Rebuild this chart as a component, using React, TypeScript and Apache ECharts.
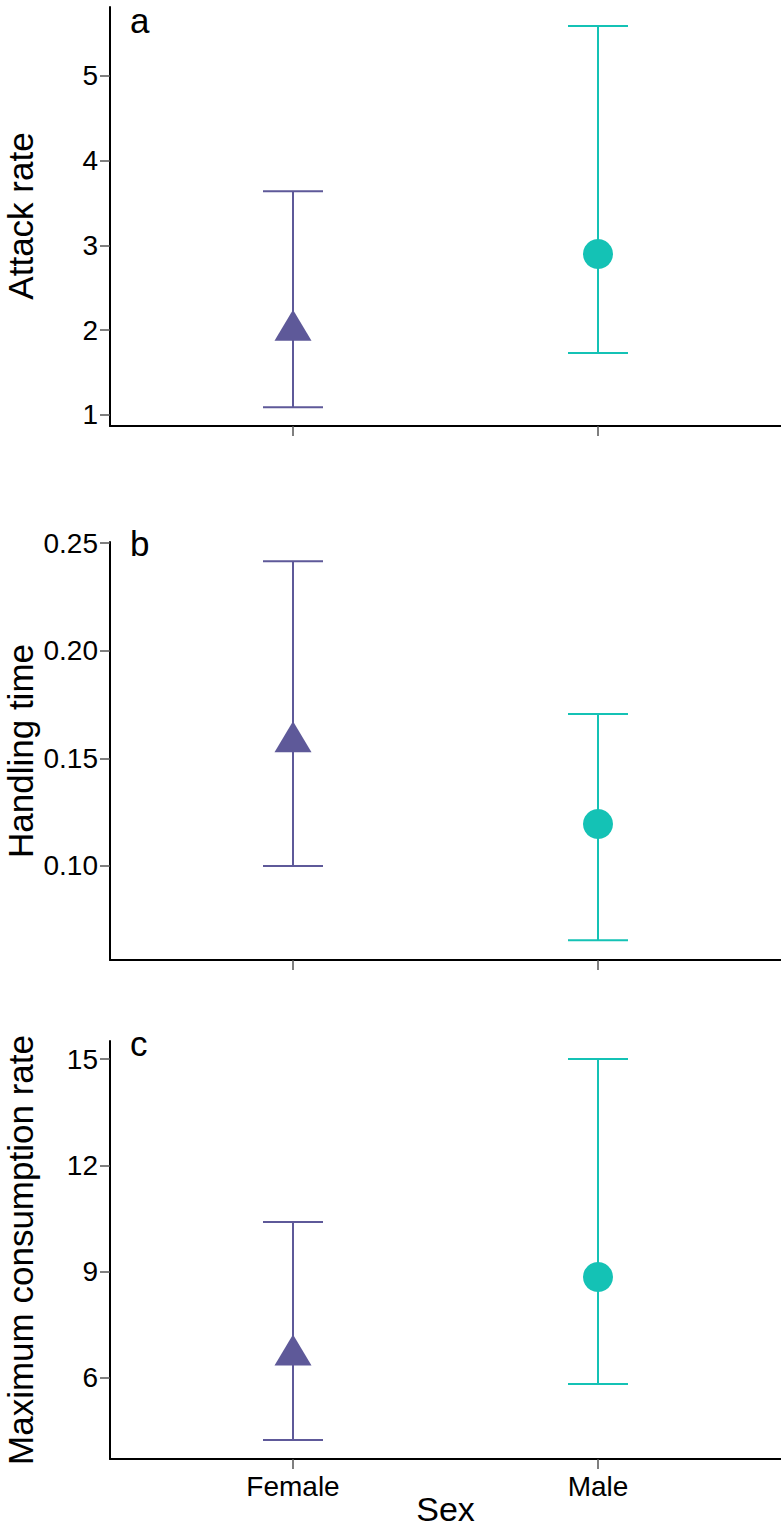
import React, { useEffect, useRef } from "react";
import * as echarts from "echarts";

const categories = ["Female", "Male"];
const catPositions = [1, 2];
const groupColors = ["#5e5999", "#14c2b5"];
const groupSymbols = ["triangle", "circle"];

const attackMean = [2.06, 2.9];
const attackLow = [1.09, 1.73];
const attackHigh = [3.64, 5.59];
const attackTicks = [1, 2, 3, 4, 5];

const handlingMean = [0.16, 0.1195];
const handlingLow = [0.1, 0.0655];
const handlingHigh = [0.2416, 0.1706];
const handlingTicks = [0.1, 0.15, 0.2, 0.25];

const consumptionMean = [6.79, 8.85];
const consumptionLow = [4.25, 5.83];
const consumptionHigh = [10.4, 15.0];
const consumptionTicks = [6, 9, 12, 15];

const panelLetters = ["a", "b", "c"];
const yTitles = ["Attack rate", "Handling time", "Maximum consumption rate"];
const xTitle = "Sex";

const FONT = "Liberation Sans, Arial, Helvetica, sans-serif";

export default function App() {
  const ref = useRef<HTMLDivElement>(null);
  useEffect(() => {
    document.body.style.margin = "0";
    if (!ref.current) return;
    const chart = echarts.init(ref.current, undefined, { renderer: "svg" });

    const panels = [
      { mean: attackMean, low: attackLow, high: attackHigh, ticks: attackTicks, min: 0.87, max: 5.814, top: 7, bottom: 426, letterY: 20, titleY: 216, fmt: (v: number) => String(v) },
      { mean: handlingMean, low: handlingLow, high: handlingHigh, ticks: handlingTicks, min: 0.0563, max: 0.2505, top: 542, bottom: 960, letterY: 543, titleY: 751, fmt: (v: number) => v.toFixed(2) },
      { mean: consumptionMean, low: consumptionLow, high: consumptionHigh, ticks: consumptionTicks, min: 3.714, max: 15.51, top: 1041, bottom: 1459, letterY: 1043, titleY: 1250, fmt: (v: number) => String(v) },
    ];

    const grids: any[] = [];
    const xAxes: any[] = [];
    const yAxes: any[] = [];
    const series: any[] = [];
    const graphics: any[] = [];

    panels.forEach((p, i) => {
      grids.push({ left: 110, right: 0, top: p.top, height: p.bottom - p.top, containLabel: false, outerBoundsMode: "none" });
      const isLast = i === panels.length - 1;
      xAxes.push({
        gridIndex: i,
        type: "value",
        min: 0.4,
        max: 2.6,
        splitLine: { show: false },
        axisLine: { show: true, onZero: false, lineStyle: { color: "#000", width: 2 } },
        axisTick: { show: true, customValues: catPositions, length: 10, lineStyle: { color: "#555", width: 1.5 } },
        axisLabel: {
          show: isLast,
          customValues: catPositions,
          formatter: (v: number) => categories[catPositions.indexOf(Math.round(v))] ?? "",
          fontFamily: FONT,
          fontSize: 28,
          color: "#000",
          margin: 13,
        },
      });
      yAxes.push({
        gridIndex: i,
        type: "value",
        min: p.min,
        max: p.max,
        splitLine: { show: false },
        axisLine: { show: true, onZero: false, lineStyle: { color: "#000", width: 2 } },
        axisTick: { show: true, customValues: p.ticks, length: 10, lineStyle: { color: "#555", width: 1.5 } },
        axisLabel: {
          customValues: p.ticks,
          formatter: p.fmt,
          fontFamily: FONT,
          fontSize: 28,
          color: "#000",
          margin: 12,
        },
      });
      series.push({
        type: "custom",
        xAxisIndex: i,
        yAxisIndex: i,
        encode: { x: 0, y: [1, 2] },
        data: catPositions.map((c, k) => [c, p.low[k], p.high[k]]),
        renderItem: (params: any, api: any) => {
          const x = api.value(0);
          const lo = api.coord([x, api.value(1)]);
          const hi = api.coord([x, api.value(2)]);
          const color = groupColors[params.dataIndex];
          const hw = 30;
          const style = { stroke: color, lineWidth: 2 };
          return {
            type: "group",
            children: [
              { type: "line", shape: { x1: lo[0], y1: lo[1], x2: hi[0], y2: hi[1] }, style },
              { type: "line", shape: { x1: lo[0] - hw, y1: lo[1], x2: lo[0] + hw, y2: lo[1] }, style },
              { type: "line", shape: { x1: hi[0] - hw, y1: hi[1], x2: hi[0] + hw, y2: hi[1] }, style },
            ],
          };
        },
        z: 2,
      });
      series.push({
        type: "scatter",
        xAxisIndex: i,
        yAxisIndex: i,
        data: catPositions.map((c, k) => ({
          value: [c, p.mean[k]],
          symbol: groupSymbols[k],
          symbolSize: k === 0 ? [37, 31] : 30,
          itemStyle: { color: groupColors[k], opacity: 1 },
        })),
        z: 3,
      });
      graphics.push({
        type: "text",
        x: 130,
        y: p.letterY,
        style: { text: panelLetters[i], fontFamily: FONT, fontSize: 35, lineHeight: 20, verticalAlign: "middle", fill: "#000" },
      });
      graphics.push({
        type: "text",
        x: 20,
        y: p.titleY,
        rotation: Math.PI / 2,
        style: { text: yTitles[i], fontFamily: FONT, fontSize: 35, lineHeight: 24, align: "center", verticalAlign: "middle", fill: "#000" },
      });
    });

    graphics.push({
      type: "text",
      x: 445.5,
      y: 1509,
      style: { text: xTitle, fontFamily: FONT, fontSize: 34, lineHeight: 24, align: "center", verticalAlign: "middle", fill: "#000" },
    });

    chart.setOption({
      animation: false,
      backgroundColor: "#fff",
      grid: grids,
      xAxis: xAxes,
      yAxis: yAxes,
      series,
      graphic: graphics,
    });
    return () => chart.dispose();
  }, []);
  return <div ref={ref} style={{ width: 781, height: 1529 }} />;
}
